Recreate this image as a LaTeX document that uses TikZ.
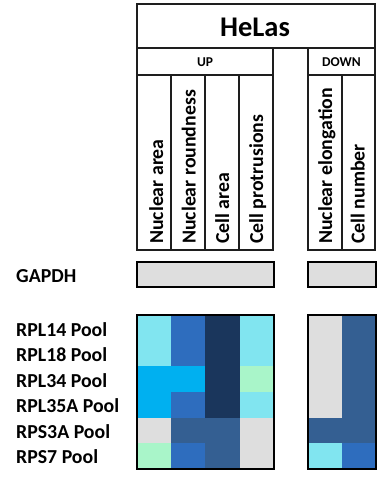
\documentclass[tikz,border=0pt]{standalone}
\usepackage{fontspec}
\setmainfont{Carlito}
\definecolor{lc}{RGB}{129,229,240}
\definecolor{mb}{RGB}{46,109,190}
\definecolor{nv}{RGB}{26,54,92}
\definecolor{bc}{RGB}{0,176,240}
\definecolor{mt}{RGB}{169,245,201}
\definecolor{gr}{RGB}{222,222,222}
\definecolor{sb}{RGB}{52,95,146}
\definecolor{ln}{RGB}{30,30,30}
\begin{document}
\begin{tikzpicture}[x=1pt,y=-1pt,
  hdr/.style={draw=ln,line width=1.5pt},
  lbl/.style={font=\bfseries\fontsize{19.8}{21}\selectfont, inner sep=0pt, anchor=base west},
  collbl/.style={lbl, rotate=90},
  small/.style={font=\bfseries\fontsize{13.5}{14}\selectfont, inner sep=0pt},
  box/.style={draw=black,line width=2pt},
  cell/.style={line width=0pt}]
\useasboundingbox (0,0) rectangle (383,477);
% header
\draw[hdr] (137,4) rectangle (375,48);
\node[font=\bfseries\fontsize{28.5}{30}\selectfont, inner sep=0pt] (helas) at (255,27) {HeLas};
\draw[hdr] (137,48) rectangle (273,75);
\draw[hdr] (308,48) rectangle (375,75);
\node[small] (up) at (205,62) {UP};
\node[small] (down) at (341.5,62) {DOWN};
\draw[hdr] (273,48) -- (273,250);
\draw[hdr] (308,48) -- (308,250);
\foreach \a/\b in {137/171,171/205,205/239,239/273,308/342,342/375}{
  \draw[hdr] (\a,75) rectangle (\b,250);
}
\node[collbl] (c1) at (163,244) {Nuclear area};
\node[collbl] (c2) at (195.5,244) {Nuclear roundness};
\node[collbl] (c3) at (229,244) {Cell area};
\node[collbl] (c4) at (263,244) {Cell protrusions};
\node[collbl] (c5) at (332,244) {Nuclear elongation};
\node[collbl] (c6) at (364.5,244) {Cell number};
% GAPDH
\node[lbl] (gapdh) at (16,282.5) {GAPDH};
\draw[box,fill=gr] (137,262) rectangle (274,287);
\draw[box,fill=gr] (308,262) rectangle (376,287);
% row labels
\node[lbl] (r1) at (16,336) {RPL14 Pool};
\node[lbl] (r2) at (16,361.5) {RPL18 Pool};
\node[lbl] (r3) at (16,387) {RPL34 Pool};
\node[lbl] (r4) at (16,412.5) {RPL35A Pool};
\node[lbl] (r5) at (16,438) {RPS3A Pool};
\node[lbl] (r6) at (16,463.5) {RPS7 Pool};
% heatmap
\foreach \r/\cA/\cB/\cC/\cD/\cE/\cF in {
  0/lc/mb/nv/lc/gr/sb,
  1/lc/mb/nv/lc/gr/sb,
  2/bc/bc/nv/mt/gr/sb,
  3/bc/mb/nv/lc/gr/sb,
  4/gr/sb/sb/gr/sb/sb,
  5/mt/mb/sb/gr/lc/mb}{
  \pgfmathsetmacro{\ya}{315+25.67*\r}
  \pgfmathsetmacro{\yb}{315+25.67*(\r+1)}
  \fill[\cA] (137,\ya) rectangle (171.3,\yb);
  \fill[\cB] (171.2,\ya) rectangle (205.5,\yb);
  \fill[\cC] (205.4,\ya) rectangle (239.8,\yb);
  \fill[\cD] (239.7,\ya) rectangle (274,\yb);
  \fill[\cE] (308,\ya) rectangle (342.1,\yb);
  \fill[\cF] (342,\ya) rectangle (376,\yb);
}
\draw[box,line width=2.4pt] (137,315) rectangle (274,469);
\draw[box,line width=2.4pt] (308,315) rectangle (376,469);
\end{tikzpicture}
\end{document}
